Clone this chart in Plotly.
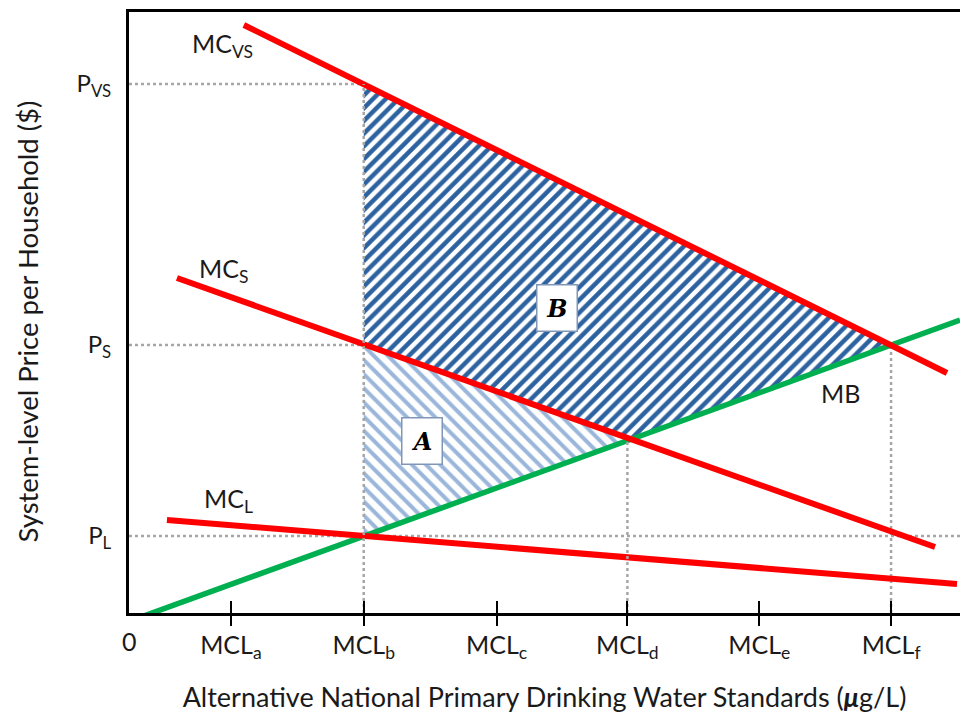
import numpy as np
import plotly.graph_objects as go

# ---------------- data ----------------
x_tick_vals = [102, 235, 368, 499, 631, 763]
x_tick_text = ["MCL<sub>a</sub>", "MCL<sub>b</sub>", "MCL<sub>c</sub>",
               "MCL<sub>d</sub>", "MCL<sub>e</sub>", "MCL<sub>f</sub>"]
y_tick_vals = [77, 268, 529]
y_tick_text = ["P<sub>L</sub>", "P<sub>S</sub>", "P<sub>VS</sub>"]
x_max = 832
y_max = 601

# curve end points (x, y)
mc_vs_x = [115, 819]
mc_vs_y = [588, 240]
mc_s_x = [48, 807]
mc_s_y = [335, 66]
mc_l_x = [38, 829]
mc_l_y = [93, 29]
mb_x = [12, 832]
mb_y = [-4, 293]

RED = "#FF0000"
GREEN = "#00B050"
GRID = "#A6A6A6"
FONT = "Lato"
TXT = "#1a1a1a"


def line_at(xs, ys, x):
    return ys[0] + (ys[1] - ys[0]) * (x - xs[0]) / (xs[1] - xs[0])


def intersect(ax, ay, bx, by):
    ma = (ay[1] - ay[0]) / (ax[1] - ax[0])
    mb = (by[1] - by[0]) / (bx[1] - bx[0])
    ca = ay[0] - ma * ax[0]
    cb = by[0] - mb * bx[0]
    x = (cb - ca) / (ma - mb)
    return x, ma * x + ca


xb = x_tick_vals[1]
xi_s, yi_s = intersect(mc_s_x, mc_s_y, mb_x, mb_y)      # MC_S x MB
xi_vs, yi_vs = intersect(mc_vs_x, mc_vs_y, mb_x, mb_y)  # MC_VS x MB

fig = go.Figure()

# area B (dark hatch)
fig.add_trace(go.Scatter(
    x=[xb, xi_vs, xi_s, xb, xb],
    y=[line_at(mc_vs_x, mc_vs_y, xb), yi_vs, yi_s, line_at(mc_s_x, mc_s_y, xb),
       line_at(mc_vs_x, mc_vs_y, xb)],
    mode="lines", line=dict(width=0), fill="toself", fillcolor="white",
    fillpattern=dict(shape="/", fgcolor="#2D62A0", bgcolor="white", size=9,
                     solidity=0.5, fgopacity=1),
    hoverinfo="skip", showlegend=False))

# area A (light hatch)
fig.add_trace(go.Scatter(
    x=[xb, xi_s, xb, xb],
    y=[line_at(mc_s_x, mc_s_y, xb), yi_s, line_at(mb_x, mb_y, xb), line_at(mc_s_x, mc_s_y, xb)],
    mode="lines", line=dict(width=0), fill="toself", fillcolor="white",
    fillpattern=dict(shape="\\", fgcolor="#9AB7DB", bgcolor="white", size=10,
                     solidity=0.4, fgopacity=1),
    hoverinfo="skip", showlegend=False))

# dotted guide lines
guide = dict(color=GRID, width=2.5, dash="dot")
fig.add_trace(go.Scatter(x=[0, xb], y=[y_tick_vals[2]] * 2, mode="lines", line=guide,
                         hoverinfo="skip", showlegend=False))
fig.add_trace(go.Scatter(x=[0, xb], y=[y_tick_vals[1]] * 2, mode="lines", line=guide,
                         hoverinfo="skip", showlegend=False))
fig.add_trace(go.Scatter(x=[0, x_max], y=[y_tick_vals[0]] * 2, mode="lines", line=guide,
                         hoverinfo="skip", showlegend=False))
fig.add_trace(go.Scatter(x=[xb, xb], y=[0, y_tick_vals[2]], mode="lines", line=guide,
                         xaxis="x2", hoverinfo="skip", showlegend=False))
fig.add_trace(go.Scatter(x=[x_tick_vals[3]] * 2, y=[0, yi_s], mode="lines", line=guide,
                         xaxis="x3", hoverinfo="skip", showlegend=False))
fig.add_trace(go.Scatter(x=[x_tick_vals[5]] * 2, y=[0, y_tick_vals[1]], mode="lines", line=guide,
                         hoverinfo="skip", showlegend=False))

# curves
fig.add_trace(go.Scatter(x=mb_x, y=mb_y, mode="lines", line=dict(color=GREEN, width=5.5),
                         name="MB", showlegend=False))
for xs, ys, nm in [(mc_vs_x, mc_vs_y, "MC_VS"), (mc_s_x, mc_s_y, "MC_S"), (mc_l_x, mc_l_y, "MC_L")]:
    fig.add_trace(go.Scatter(x=xs, y=ys, mode="lines", line=dict(color=RED, width=6),
                             name=nm, showlegend=False))

# curve labels
labels = [("MC<sub>VS</sub>", 94, 568), ("MC<sub>S</sub>", 95, 343),
          ("MC<sub>L</sub>", 100, 113), ("MB", 712, 220)]
for t, x, y in labels:
    fig.add_annotation(x=x, y=y, text=t, showarrow=False,
                       font=dict(family=FONT, size=25, color=TXT))

# area labels
for t, x, y in [("A", 293, 172), ("B", 429, 305)]:
    fig.add_annotation(x=x, y=y, text=f"<b><i>{t}</i></b>", showarrow=False,
                       font=dict(family="DejaVu Serif", size=24, color="black"),
                       bgcolor="white", bordercolor="#8096B8", borderwidth=1.5,
                       width=39, height=45, borderpad=0)

# origin label
fig.add_annotation(x=0, y=0, yref="y", yshift=-28, text="0", showarrow=False,
                   font=dict(family=FONT, size=25, color=TXT))

# y axis title
fig.add_annotation(x=0, xref="paper", xanchor="center", xshift=-102,
                   y=0.5, yref="paper", yanchor="middle", yshift=-9,
                   text="System-level Price per Household ($)", textangle=-90,
                   showarrow=False, font=dict(family=FONT, size=27.5, color=TXT))

tick_common = dict(range=[0, x_max], tickvals=x_tick_vals, showticklabels=False,
                   showgrid=False, zeroline=False, showline=False,
                   ticklen=12, tickwidth=2, tickcolor="black", anchor="y")

fig.update_layout(
    width=960, height=720,
    margin=dict(l=129, r=0, t=12, b=107),
    plot_bgcolor="white", paper_bgcolor="white",
    font=dict(family=FONT, size=25, color=TXT),
    xaxis=dict(range=[0, x_max], tickvals=x_tick_vals, ticktext=x_tick_text,
               ticks="", showgrid=False, zeroline=False,
               showline=True, linewidth=3, linecolor="black", mirror=True,
               ticklabelstandoff=8,
               tickfont=dict(family=FONT, size=25, color=TXT),
               title=dict(text="Alternative National Primary Drinking Water Standards (<b><i>μ</i></b>g/L)",
                          font=dict(family=FONT, size=27, color=TXT), standoff=26)),
    xaxis2=dict(overlaying="x", ticks="outside", **tick_common),
    xaxis3=dict(overlaying="x", ticks="inside", **tick_common),
    yaxis=dict(range=[0, y_max], tickvals=y_tick_vals, ticktext=y_tick_text,
               ticks="", showgrid=False, zeroline=False,
               showline=True, linewidth=3, linecolor="black", mirror=False,
               ticklabelstandoff=10,
               tickfont=dict(family=FONT, size=24, color=TXT)),
)

fig.write_html("out.html", config={"displayModeBar": False},
               post_script="document.body.style.margin='0';document.body.style.overflow='hidden';")
